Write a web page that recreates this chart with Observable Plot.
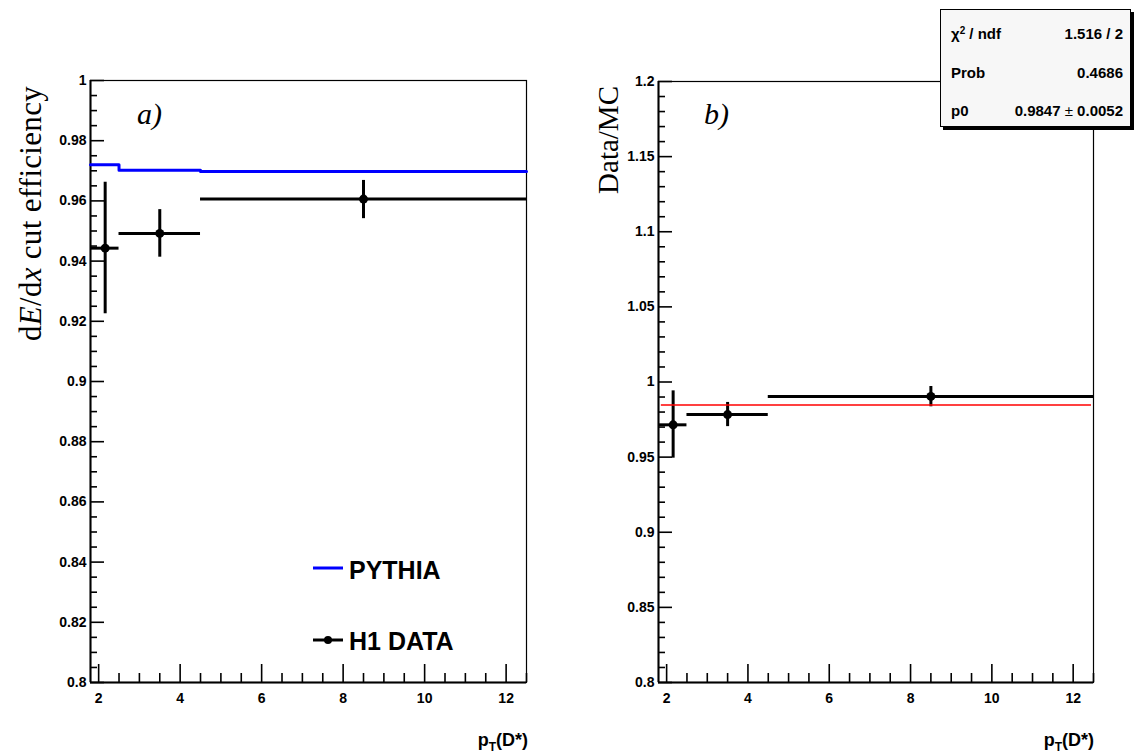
<!DOCTYPE html>
<html>
<head>
<meta charset="utf-8">
<script src="https://cdn.jsdelivr.net/npm/d3@7"></script>
<script src="https://cdn.jsdelivr.net/npm/@observablehq/plot@0.6"></script>
<style>
  html, body { margin: 0; padding: 0; background: #fff; }
  #wrap { position: relative; width: 1134px; height: 755px; overflow: hidden; background: #fff; font-family: "Liberation Sans", Arial, sans-serif; }
  .panel { position: absolute; top: 0; }
  .panel text { font-family: "Liberation Sans", Arial, sans-serif; font-size: 14px; font-weight: bold; fill: #000; }
  .ytitle { position: absolute; transform-origin: 0 0; transform: rotate(-90deg) translate(-100%, -50%); white-space: nowrap; font-family: "Liberation Serif", "Times New Roman", serif; font-size: 28px; line-height: 1; color: #000; }
  .tag { position: absolute; font-family: "Liberation Serif", "Times New Roman", serif; font-style: italic; font-size: 30px; line-height: 1; }
  .xtitle { position: absolute; font-weight: bold; font-size: 18px; line-height: 1; white-space: nowrap; text-align: right; }
  .xtitle sub { font-size: 12px; vertical-align: -5px; }
  .leg { position: absolute; font-weight: bold; font-size: 25px; line-height: 1; white-space: nowrap; display: flex; align-items: center; }
  .leg svg { margin-right: 6px; }
  #stats { position: absolute; left: 940px; top: 9px; width: 191px; height: 118px; box-sizing: border-box; border: 1px solid #000; background: #f7f7f7; box-shadow: 3px 3px 0 #000; font-weight: bold; font-size: 15px; }
  #stats .row { position: absolute; left: 10px; right: 7px; display: flex; justify-content: space-between; line-height: 1; }
</style>
</head>
<body>
<div id="wrap"></div>
<script>
// ---------------- data ----------------
const binLow = [1.8, 2.5, 4.5];
const binHigh = [2.5, 4.5, 12.5];
const dataX = [2.16, 3.5, 8.5];

// panel a) : dE/dx cut efficiency
const effVal = [0.9443, 0.9492, 0.9606];
const effLo = [0.9225, 0.9413, 0.9541];
const effHi = [0.9662, 0.9571, 0.9668];
const pythiaEdges = [1.8, 2.5, 4.5, 12.5];
const pythiaVal = [0.9720, 0.9702, 0.9698];

// panel b) : Data/MC
const ratioVal = [0.9715, 0.9783, 0.9904];
const ratioLo = [0.9493, 0.9703, 0.9835];
const ratioHi = [0.9941, 0.9864, 0.9970];
const fitP0 = 0.9847;
const fitRange = [1.87, 12.45];

// axes
const xDomain = [1.8, 12.5];
const xMajor = [2, 4, 6, 8, 10, 12];
const yDomainA = [0.8, 1.0];
const yMajorA = [0.8, 0.82, 0.84, 0.86, 0.88, 0.9, 0.92, 0.94, 0.96, 0.98, 1.0];
const yDomainB = [0.8, 1.2];
const yMajorB = [0.8, 0.85, 0.9, 0.95, 1.0, 1.05, 1.1, 1.15, 1.2];

// stats box
const statNames = ["\u03C7\u00B2 / ndf", "Prob", "p0"];
const statValues = ["1.516 / 2", "0.4686", "0.9847 \u00B1 0.0052"];

// legend
const legendLabels = ["PYTHIA", "H1 DATA"];

// ---------------- drawing ----------------
const W = 567, H = 755;
const fmt = d => String(+(+d).toFixed(3));

function panel({ml, mr, mt, mb, yDomain, yMajor, yMinorStep, marks}) {
  const plotW = W - ml - mr, plotH = H - mt - mb;
  const pxX = plotW / (xDomain[1] - xDomain[0]);
  const pxY = plotH / (yDomain[1] - yDomain[0]);
  const xMinor = d3.range(xDomain[0] + 0.2, xDomain[1] + 1e-9, 0.5).filter(v => !xMajor.some(m => Math.abs(m - v) < 1e-6));
  const nMin = Math.round((yDomain[1] - yDomain[0]) / yMinorStep);
  const yMinor = d3.range(0, nMin + 1).map(i => yDomain[0] + i * yMinorStep).filter(v => !yMajor.some(m => Math.abs(m - v) < 1e-6));
  const x0 = xDomain[0], y0 = yDomain[0];
  return Plot.plot({
    width: W, height: H,
    marginLeft: ml, marginRight: mr, marginTop: mt, marginBottom: mb,
    style: {fontFamily: "Liberation Sans, Arial, sans-serif", fontSize: "14px", fontWeight: "bold", background: "transparent", overflow: "visible"},
    x: {domain: xDomain},
    y: {domain: yDomain},
    marks: [
      Plot.frame({stroke: "#000", strokeWidth: 1.2}),
      // inward ticks
      Plot.ruleX(xMajor, {x: d => d, y1: y0, y2: y0 + 18 / pxY, stroke: "#000", strokeWidth: 1.6}),
      Plot.ruleX(xMinor, {x: d => d, y1: y0, y2: y0 + 9 / pxY, stroke: "#000", strokeWidth: 1.6}),
      Plot.ruleY(yMajor, {y: d => d, x1: x0, x2: x0 + 14 / pxX, stroke: "#000", strokeWidth: 1.6}),
      Plot.ruleY(yMinor, {y: d => d, x1: x0, x2: x0 + 7 / pxX, stroke: "#000", strokeWidth: 1.6}),
      Plot.ruleX([x0], {stroke: "#000", strokeWidth: 2}),
      Plot.ruleY([y0], {stroke: "#000", strokeWidth: 2}),
      Plot.axisX(xMajor, {tickSize: 0, tickPadding: 11, tickFormat: fmt, label: null}),
      Plot.axisY(yMajor, {tickSize: 0, tickPadding: 4, tickFormat: fmt, label: null}),
      ...marks
    ]
  });
}

function dataMarks(vals, lo, hi) {
  const rows = vals.map((v, i) => ({x: dataX[i], v, lo: lo[i], hi: hi[i], a: binLow[i], b: binHigh[i]}));
  return [
    Plot.ruleY(rows, {y: "v", x1: "a", x2: "b", stroke: "#000", strokeWidth: 3}),
    Plot.ruleX(rows, {x: "x", y1: "lo", y2: "hi", stroke: "#000", strokeWidth: 3}),
    Plot.dot(rows, {x: "x", y: "v", r: 4.5, fill: "#000", stroke: "none"})
  ];
}

const pythiaSteps = pythiaEdges.map((e, i) => ({x: e, y: pythiaVal[Math.min(i, pythiaVal.length - 1)]}));

const left = panel({
  ml: 90, mr: 41, mt: 80, mb: 73,
  yDomain: yDomainA, yMajor: yMajorA, yMinorStep: 0.005,
  marks: [
    Plot.line(pythiaSteps, {x: "x", y: "y", curve: "step-after", stroke: "#0000ff", strokeWidth: 3}),
    ...dataMarks(effVal, effLo, effHi)
  ]
});

const right = panel({
  ml: 91, mr: 41, mt: 81, mb: 73,
  yDomain: yDomainB, yMajor: yMajorB, yMinorStep: 0.01,
  marks: [
    ...dataMarks(ratioVal, ratioLo, ratioHi),
    Plot.ruleY([fitP0], {x1: fitRange[0], x2: fitRange[1], stroke: "#ff0000", strokeWidth: 1.6})
  ]
});

const wrap = document.getElementById("wrap");
left.classList.add("panel"); left.style.left = "0px";
right.classList.add("panel"); right.style.left = "567px";
wrap.appendChild(left);
wrap.appendChild(right);

function addHTML(html) {
  const t = document.createElement("template");
  t.innerHTML = html.trim();
  const el = t.content.firstChild;
  wrap.appendChild(el);
  return el;
}

// y titles
addHTML(`<div class="ytitle" style="left:30px;top:86px;font-size:31px;letter-spacing:0.3px">d<i>E</i>/d<i>x</i> cut efficiency</div>`);
addHTML(`<div class="ytitle" style="left:608px;top:86px;font-size:29px">Data/MC</div>`);
// panel tags
addHTML(`<div class="tag" style="left:137px;top:99px">a)</div>`);
addHTML(`<div class="tag" style="left:704px;top:99px">b)</div>`);
// x titles
addHTML(`<div class="xtitle" style="right:${1134 - 528}px;top:731px">p<sub>T</sub>(D*)</div>`);
addHTML(`<div class="xtitle" style="right:${1134 - 1094}px;top:731px">p<sub>T</sub>(D*)</div>`);

// legend
addHTML(`<div class="leg" style="left:313px;top:557px"><svg width="30" height="26"><line x1="0" x2="30" y1="11" y2="11" stroke="#0000ff" stroke-width="3"/></svg>${legendLabels[0]}</div>`);
addHTML(`<div class="leg" style="left:313px;top:628px"><svg width="30" height="26"><line x1="0" x2="30" y1="12" y2="12" stroke="#000" stroke-width="3"/><circle cx="15" cy="12" r="4" fill="#000"/></svg>${legendLabels[1]}</div>`);

// stats box
const stats = addHTML(`<div id="stats"></div>`);
const rowTops = [16, 55, 93];
statNames.forEach((n, i) => {
  const r = document.createElement("div");
  r.className = "row";
  r.style.top = rowTops[i] + "px";
  const nm = n.replace("\u00B2", "<sup style='font-size:10px;vertical-align:5px;line-height:0'>2</sup>");
  r.innerHTML = `<span>${nm}</span><span>${statValues[i].replace("\u00B1", "<span style='font-weight:normal'>\u00B1</span>")}</span>`;
  stats.appendChild(r);
});
</script>
</body>
</html>
